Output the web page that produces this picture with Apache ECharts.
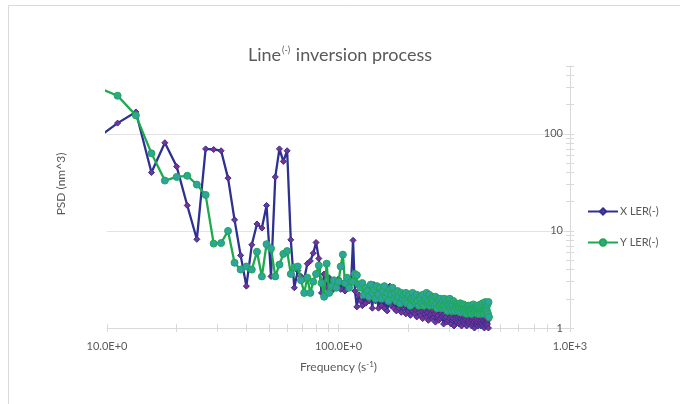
<!DOCTYPE html>
<html><head><meta charset="utf-8">
<script src="https://cdn.jsdelivr.net/npm/echarts@6/dist/echarts.min.js"></script>
<style>html,body{margin:0;padding:0;background:#fff}#c{width:680px;height:404px}</style>
</head><body><div id="c"></div>
<script>
// Frequency (s^-1)
const freq = [8.89,11.11,13.33,15.56,17.78,20,22.22,24.44,26.67,28.89,31.11,33.33,35.56,37.78,40,42.22,44.44,46.67,48.89,51.11,53.33,55.56,57.78,60,62.22,64.44,66.67,68.89,71.11,73.33,75.56,77.78,80,82.22,84.44,86.67,88.89,91.11,93.33,95.56,97.78,100,102.22,104.44,106.67,108.89,111.11,113.33,115.56,117.78,120,122.22,124.44,126.67,128.89,131.11,133.33,135.56,137.78,140,142.22,144.44,146.67,148.89,151.11,153.33,155.56,157.78,160,162.22,164.44,166.67,168.89,171.11,173.33,175.56,177.78,180,182.22,184.44,186.67,188.89,191.11,193.33,195.56,197.78,200,202.22,204.44,206.67,208.89,211.11,213.33,215.56,217.78,220,222.22,224.44,226.67,228.89,231.11,233.33,235.56,237.78,240,242.22,244.44,246.67,248.89,251.11,253.33,255.56,257.78,260,262.22,264.44,266.67,268.89,271.11,273.33,275.56,277.78,280,282.22,284.44,286.67,288.89,291.11,293.33,295.56,297.78,300,302.22,304.44,306.67,308.89,311.11,313.33,315.56,317.78,320,322.22,324.44,326.67,328.89,331.11,333.33,335.56,337.78,340,342.22,344.44,346.67,348.89,351.11,353.33,355.56,357.78,360,362.22,364.44,366.67,368.89,371.11,373.33,375.56,377.78,380,382.22,384.44,386.67,388.89,391.11,393.33,395.56,397.78,400,402.22,404.44,406.67,408.89,411.11,413.33,415.56,417.78,420,422.22,424.44,426.67,428.89,431.11,433.33,435.56,437.78,440,442.22,444.44,446.67];

// X LER(-) PSD values (nm^3)
const xLer = [87,129,168,40,81,46,18.3,8.2,70,69,67,35,13,5.6,2.7,7.2,11.8,10.7,18.3,3.4,36,70,52,67,8.1,2.6,3.9,3.4,3.2,4.6,4.9,5.9,7.6,5.2,2.3,3.6,2.6,3.3,2.4,3.0,2.7,3.2,2.5,2.9,2.4,3.1,2.6,2.9,8.0,2.4,1.65,2.2,1.9,
1.7,2.3,1.8,2.6,1.9,2.2,1.6,2.8,1.9,2.1,
1.6,2.0,1.7,2.2,1.6,1.9,1.5,1.8,2.7,1.7,
2.0,1.6,1.8,1.5,1.9,1.6,1.7,1.45,1.8,1.6,
1.7,1.4,1.8,1.5,1.6,1.35,1.7,1.5,1.6,1.4,
1.55,1.3,1.6,1.45,1.7,1.35,1.5,1.25,1.6,1.4,
1.5,1.3,1.45,1.2,1.55,1.35,1.4,1.25,1.5,1.3,
1.4,1.15,1.45,1.3,1.35,1.2,1.5,1.25,1.4,1.3,
1.35,1.1,1.4,1.25,1.3,1.15,1.45,1.2,1.35,1.25,
1.3,1.1,1.35,1.2,1.25,1.05,1.4,1.2,1.3,1.15,
1.25,1.3,1.1,1.35,1.15,1.25,1.05,1.3,1.2,1.15,
1.3,1.1,1.2,1.25,1.05,1.3,1.15,1.2,1.1,1.25,
1.15,1.3,1.05,1.2,1.1,1.25,1.15,1.0,1.2,1.1,
1.25,1.1,1.15,1.05,1.2,1.3,1.1,1.15,1.05,1.2,
1.1,1.25,1.05,1.15,1.2,1.0,1.15,1.1,1.25,1.05,
1.15,1.1,1.2,1.0,1.3];

// Y LER(-) PSD values (nm^3)
const yLer = [307,247,155,63,33,36,37,30,23.5,7.4,7.5,10.0,4.7,4.0,4.3,4.0,6.1,3.4,7.3,6.6,3.4,4.5,5.8,6.2,3.6,4.2,4.3,3.1,2.3,3.3,2.3,3.0,3.6,4.4,2.9,2.1,4.6,2.3,2.7,3.1,2.6,3.0,4.3,5.7,2.9,3.3,2.6,3.0,3.0,3.6,3.5,2.8,2.6,
2.9,2.2,2.6,2.4,2.1,2.8,2.3,2.5,2.0,2.7,
2.2,2.6,2.0,2.4,2.7,2.1,2.3,1.9,2.5,2.2,
2.6,2.0,2.3,1.9,2.4,2.1,1.8,2.3,2.0,2.2,
1.9,2.3,1.8,2.1,2.2,1.7,2.0,2.3,1.9,2.1,
1.8,2.2,1.9,1.7,2.1,2.0,1.8,2.2,1.7,1.9,
2.0,2.3,1.8,1.9,2.2,1.7,2.0,1.8,2.1,1.9,
1.7,2.1,1.8,1.6,2.0,1.9,1.7,2.0,1.8,1.6,
1.9,1.7,2.0,1.6,1.8,1.9,1.5,1.8,1.7,2.0,
1.6,1.8,1.5,1.7,1.9,1.6,1.5,1.8,1.7,1.6,
1.75,1.5,1.7,1.6,1.8,1.45,1.7,1.6,1.5,1.75,
1.6,1.45,1.7,1.55,1.4,1.65,1.5,1.7,1.45,1.6,
1.5,1.7,1.4,1.6,1.55,1.75,1.45,1.6,1.5,1.65,
1.45,1.6,1.7,1.4,1.55,1.65,1.5,1.4,1.75,1.55,
1.6,1.45,1.8,1.5,1.4,1.65,1.55,1.85,1.45,1.6,
1.5,1.75,1.4,1.85,1.3];

const seriesNames = ['X LER(-)', 'Y LER(-)'];
const xTickValues = [10, 100, 1000];
const xTickLabels = ['10.0E+0', '100.0E+0', '1.0E+3'];
const yTickValues = [1, 10, 100];
const yTickLabels = ['1', '10', '100'];
const xMinorTicks = [10,20,30,40,50,60,70,80,90,100,200,300,400,500,600,700,800,900,1000];
const yMinorTicks = [1,2,3,4,5,6,7,8,9,10,20,30,40,50,60,70,80,90,100,200,300,400,500];

const FONT = 'Lato, "Open Sans", sans-serif';
const TXT = '#595959';
const AX = '#d9d9d9';

function lookup(vals, labels, v) {
  for (let i = 0; i < vals.length; i++) {
    if (Math.abs(v - vals[i]) / vals[i] < 1e-6) return labels[i];
  }
  return '';
}
const pairs = (ys) => freq.map((f, i) => [f, ys[i]]);

function tickAxisX(inside) {
  return {type: 'log', logBase: 10, min: 10, max: 1000, position: 'bottom', gridIndex: 0,
    axisLine: {show: false, onZero: false}, axisLabel: {show: false}, splitLine: {show: false},
    axisTick: {show: true, inside: inside, length: 4, customValues: xMinorTicks, lineStyle: {color: AX}}};
}
function tickAxisY(inside) {
  return {type: 'log', logBase: 10, min: 1, max: 500, position: 'right', gridIndex: 0,
    axisLine: {show: false, onZero: false}, axisLabel: {show: false}, splitLine: {show: false},
    axisTick: {show: true, inside: inside, length: 4, customValues: yMinorTicks, lineStyle: {color: AX}}};
}

const chart = echarts.init(document.getElementById('c'), null, {renderer: 'canvas'});
chart.setOption({
  animation: false,
  backgroundColor: '#fff',
  title: {
    text: '{a|Line}{s|(-)}{a| inversion process}',
    left: 'center', top: 41,
    textStyle: {fontWeight: 'normal', rich: {
      a: {fontFamily: FONT, fontSize: 18, fontWeight: 'normal', color: TXT},
      s: {fontFamily: FONT, fontSize: 9, fontWeight: 'normal', color: TXT, padding: [0, 1, 10, 1]}
    }}
  },
  legend: {
    orient: 'vertical', left: 587, top: 206, padding: 0, itemWidth: 30, itemHeight: 8, itemGap: 20,
    data: seriesNames,
    textStyle: {color: TXT, fontSize: 11, fontFamily: FONT, padding: [0, 0, 0, -3]}
  },
  grid: {left: 107, right: 110, top: 66, bottom: 76},
  xAxis: [
    {type: 'log', logBase: 10, min: 10, max: 1000, position: 'bottom',
      axisLine: {show: true, onZero: false, lineStyle: {color: AX}},
      axisTick: {show: false}, splitLine: {show: false},
      axisLabel: {color: TXT, fontSize: 11, fontFamily: FONT, margin: 13,
        formatter: (v) => lookup(xTickValues, xTickLabels, v)},
      name: '{a|Frequency (s}{s|-1}{a|)}', nameLocation: 'middle', nameGap: 32,
      nameTextStyle: {rich: {
        a: {fontFamily: FONT, fontSize: 12, color: TXT},
        s: {fontFamily: FONT, fontSize: 8, color: TXT, padding: [0, 0, 7, 0]}
      }}
    },
    tickAxisX(false), tickAxisX(true)
  ],
  yAxis: [
    {type: 'log', logBase: 10, min: 1, max: 500, position: 'right',
      axisLine: {show: true, onZero: false, lineStyle: {color: AX}},
      axisTick: {show: false},
      splitLine: {show: true, showMinLine: false, showMaxLine: false, lineStyle: {color: '#e3e3e3'}},
      axisLabel: {inside: true, margin: 7, color: TXT, fontSize: 11, fontFamily: FONT, showMaxLabel: false,
        formatter: (v) => lookup(yTickValues, yTickLabels, v)}
    },
    tickAxisY(false), tickAxisY(true)
  ],
  graphic: [
    {type: 'rect', silent: true, shape: {x: 8.5, y: 5.5, width: 700, height: 430},
      style: {fill: null, stroke: '#d9d9d9', lineWidth: 1}},
    {type: 'text', silent: true, x: 61, y: 184, rotation: Math.PI / 2,
      style: {text: 'PSD (nm^3)', fontSize: 12, fontFamily: FONT, fill: TXT, align: 'center', verticalAlign: 'middle'}}
  ],
  series: [
    {name: seriesNames[0], type: 'line', xAxisIndex: 0, yAxisIndex: 0, data: pairs(xLer),
      symbol: 'diamond', symbolSize: 6, clip: true, z: 2,
      lineStyle: {color: '#2E3192', width: 2.3},
      itemStyle: {color: '#7B3294', borderColor: '#2E3192', borderWidth: 1}},
    {name: seriesNames[1], type: 'line', xAxisIndex: 0, yAxisIndex: 0, data: pairs(yLer),
      symbol: 'circle', symbolSize: 7, clip: true, z: 3,
      lineStyle: {color: '#1DAA4C', width: 2.3},
      itemStyle: {color: '#2FA3A0', borderColor: '#1DAA4C', borderWidth: 1}}
  ]
});
</script></body></html>
